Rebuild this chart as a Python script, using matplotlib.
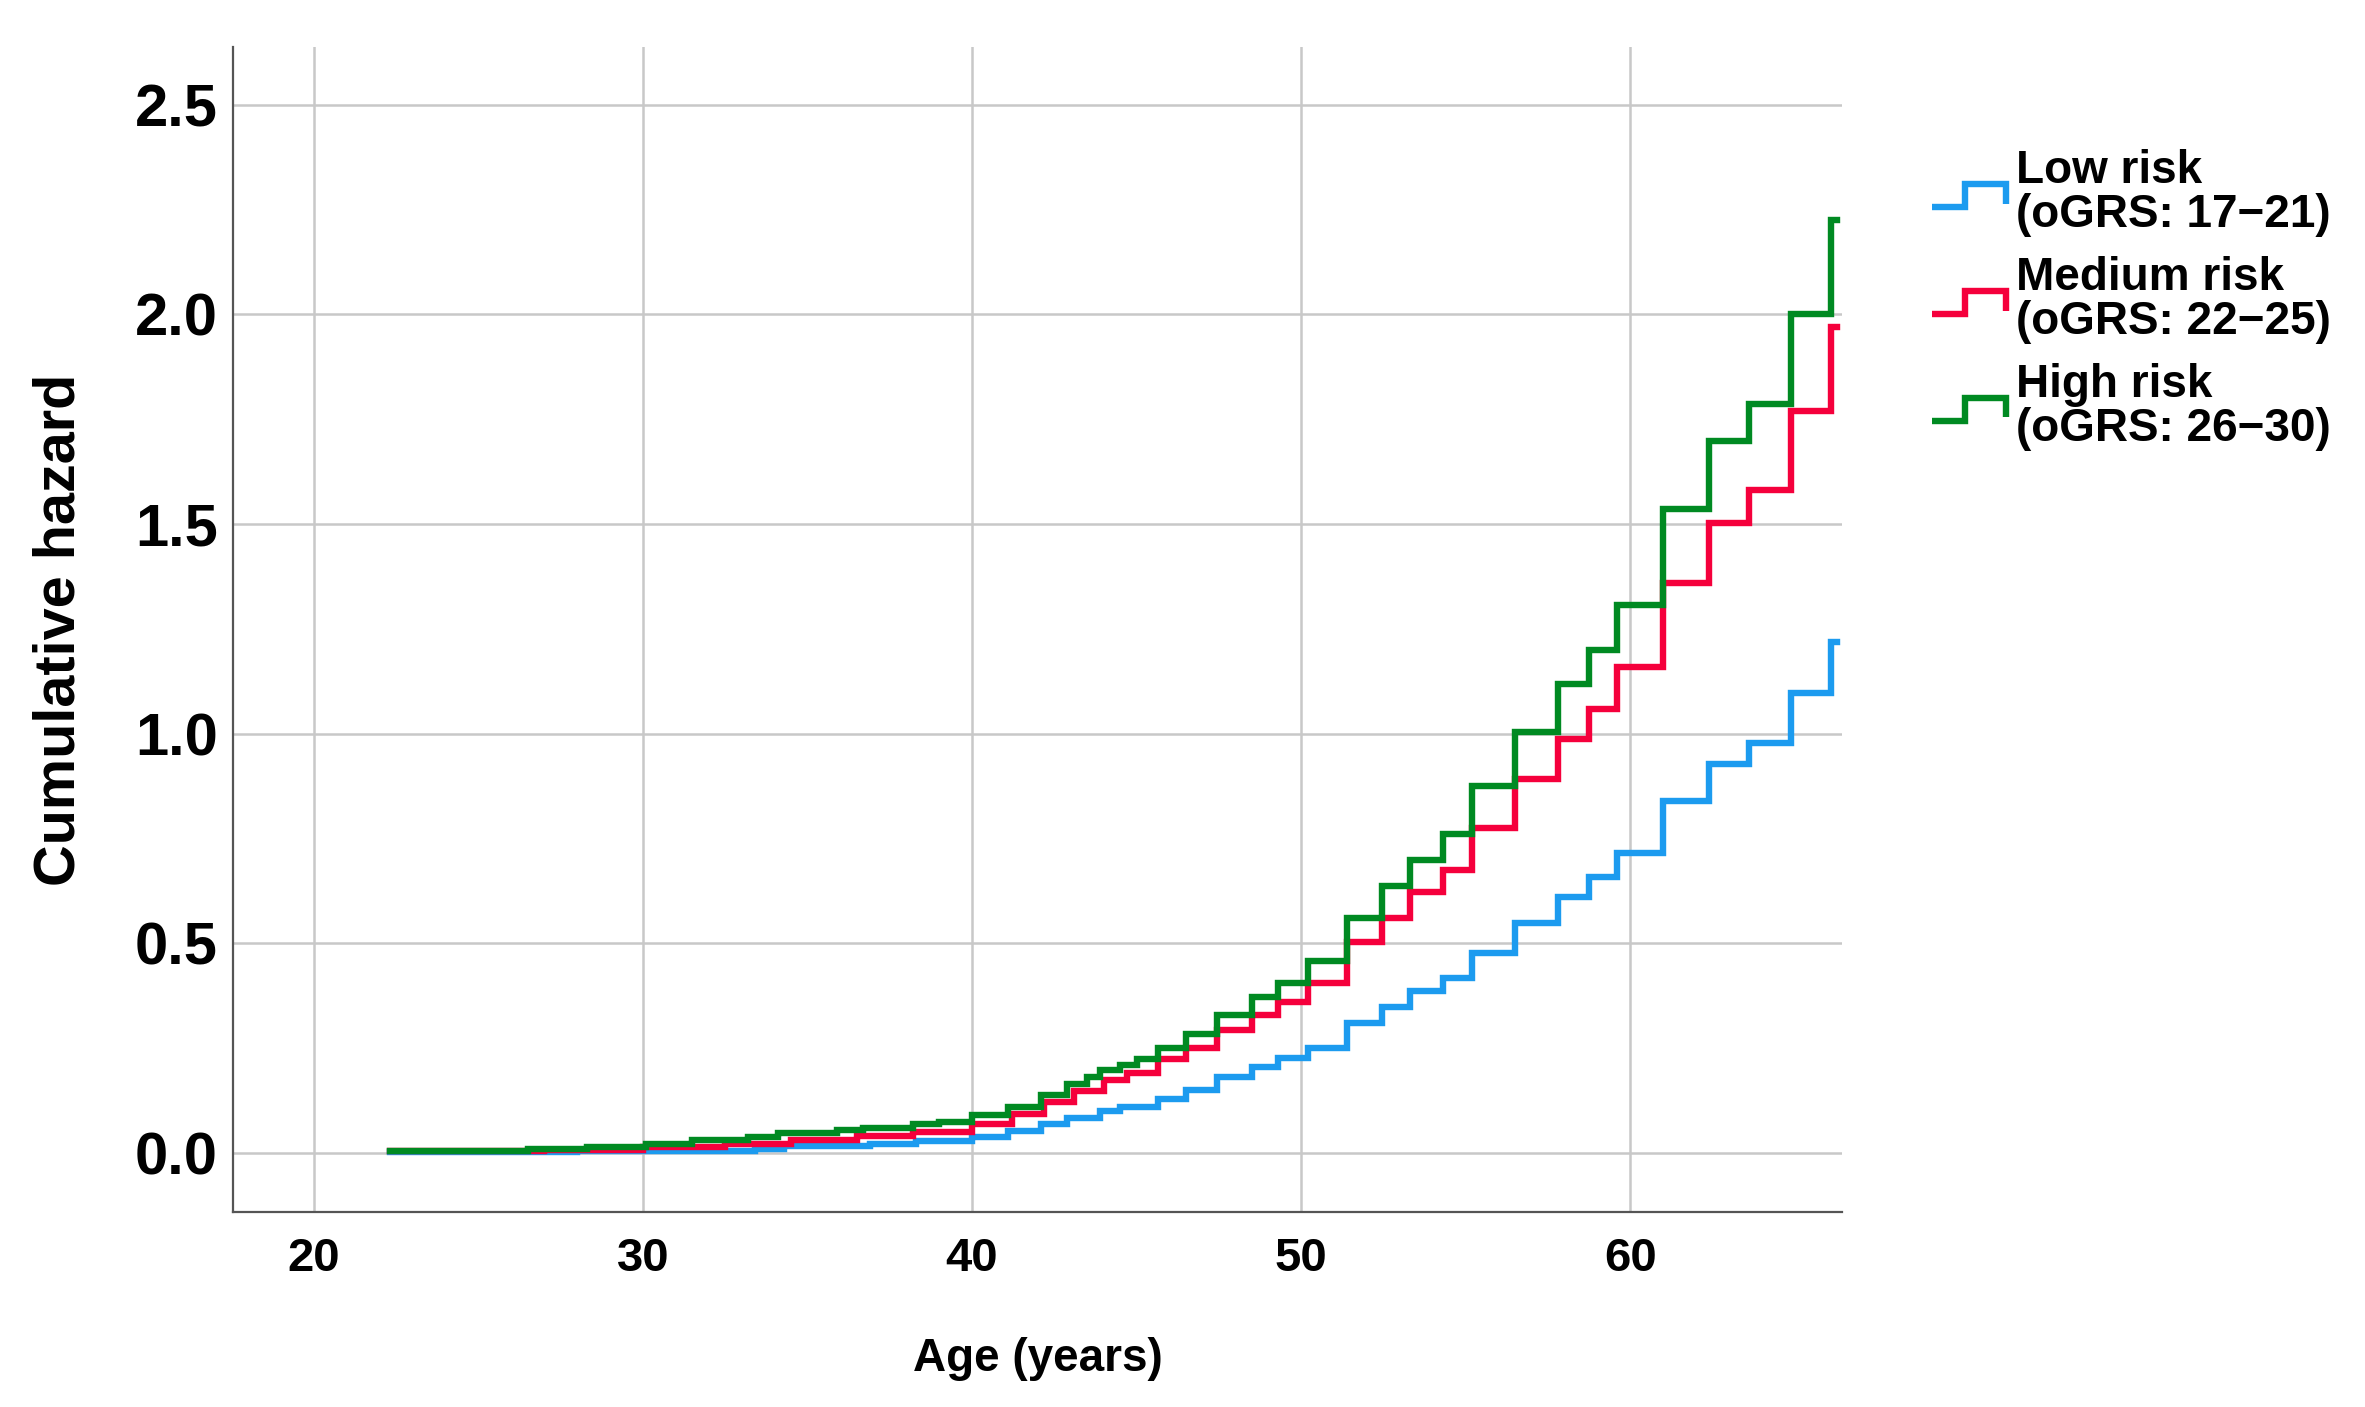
import matplotlib
matplotlib.use("Agg")
import matplotlib.pyplot as plt
from matplotlib.legend_handler import HandlerBase
from matplotlib.lines import Line2D

plt.rcParams['font.family'] = ['Liberation Sans', 'DejaVu Sans']
plt.rcParams['font.weight'] = 'bold'

# step change points (age) and cumulative hazard after each step
low_age = [22.3, 28.0, 33.4, 34.3, 36.9, 38.3, 40.0, 41.1, 42.1, 42.9, 43.9, 44.5,
           45.65, 46.5, 47.45, 48.5, 49.3, 50.2, 51.4, 52.45, 53.3, 54.3, 55.2,
           56.5, 57.8, 58.75, 59.6, 61.0, 62.4, 63.6, 64.9, 66.1]
low_haz = [0.002, 0.005, 0.010, 0.016, 0.022, 0.028, 0.038, 0.052, 0.068, 0.083, 0.100, 0.110,
           0.128, 0.150, 0.181, 0.205, 0.226, 0.251, 0.309, 0.348, 0.385, 0.418, 0.477,
           0.548, 0.610, 0.657, 0.716, 0.840, 0.928, 0.978, 1.096, 1.218]

med_age = [22.3, 27.0, 30.0, 32.5, 34.5, 36.5, 38.2, 40.0, 41.2, 42.2, 43.1, 44.0, 44.7,
           45.65, 46.5, 47.45, 48.5, 49.3, 50.2, 51.4, 52.45, 53.3, 54.3, 55.2,
           56.5, 57.8, 58.75, 59.6, 61.0, 62.4, 63.6, 64.9, 66.1]
med_haz = [0.004, 0.008, 0.015, 0.022, 0.030, 0.040, 0.050, 0.070, 0.093, 0.121, 0.147, 0.173, 0.190,
           0.223, 0.251, 0.293, 0.330, 0.360, 0.406, 0.503, 0.560, 0.623, 0.674, 0.774,
           0.891, 0.987, 1.059, 1.159, 1.360, 1.503, 1.582, 1.770, 1.971]

high_age = [22.3, 26.5, 28.3, 30.1, 31.5, 33.2, 34.1, 35.9, 36.7, 38.2, 39.0, 40.0, 41.1,
            42.1, 42.9, 43.5, 43.9, 44.5, 45.0, 45.65, 46.5, 47.45, 48.5, 49.3, 50.2,
            51.4, 52.45, 53.3, 54.3, 55.2, 56.5, 57.8, 58.75, 59.6, 61.0, 62.4, 63.6,
            64.9, 66.1]
high_haz = [0.005, 0.010, 0.014, 0.022, 0.030, 0.038, 0.048, 0.055, 0.060, 0.068, 0.073, 0.090, 0.110,
            0.137, 0.164, 0.181, 0.197, 0.209, 0.223, 0.250, 0.283, 0.330, 0.372, 0.406, 0.457,
            0.561, 0.636, 0.699, 0.761, 0.875, 1.004, 1.118, 1.199, 1.308, 1.536, 1.697, 1.787,
            2.000, 2.226]

last_age = 66.3

labels = ["Low risk\n(oGRS: 17\u221221)", "Medium risk\n(oGRS: 22\u221225)", "High risk\n(oGRS: 26\u221230)"]
colors = ["#1C9BEF", "#F5003C", "#008A22"]


class HandlerStep(HandlerBase):
    """
    small step shaped legend key
    """
    def create_artists(self, legend, orig_handle, xdescent, ydescent, width, height, fontsize, trans):
        x0 = -xdescent
        y0 = -ydescent
        xs = [x0, x0 + 0.45 * width, x0 + 0.45 * width, x0 + width, x0 + width]
        ys = [y0 + 0.1 * height, y0 + 0.1 * height, y0 + 0.8 * height, y0 + 0.8 * height, y0 + 0.2 * height]
        line = Line2D(xs, ys, color=orig_handle.get_color(), linewidth=orig_handle.get_linewidth(),
                      solid_joinstyle='miter', solid_capstyle='butt')
        line.set_transform(trans)
        return [line]


fig = plt.figure(figsize=(23.65, 14.07), dpi=100)
ax = fig.add_axes([0.0985, 0.1386, 0.6804, 0.828])

handles = []
for ages, haz, col in zip([low_age, med_age, high_age], [low_haz, med_haz, high_haz], colors):
    xs = ages + [last_age]
    ys = haz + [haz[-1]]
    ln, = ax.step(xs, ys, where='post', color=col, linewidth=4.6, solid_joinstyle='miter')
    handles.append(ln)

ax.set_xlim(17.54, 66.44)
ax.set_ylim(-0.141, 2.638)
ax.set_xticks([20, 30, 40, 50, 60])
ax.set_yticks([0.0, 0.5, 1.0, 1.5, 2.0, 2.5])
ax.set_yticklabels(["0.0", "0.5", "1.0", "1.5", "2.0", "2.5"])
ax.grid(True, color="#c8c8c8", linewidth=1.8)
ax.set_axisbelow(True)

for side in ["top", "right"]:
    ax.spines[side].set_visible(False)
for side in ["left", "bottom"]:
    ax.spines[side].set_color("#555555")
    ax.spines[side].set_linewidth(1.6)

ax.tick_params(axis='both', length=0)
ax.tick_params(axis='y', labelsize=43, pad=11)
ax.tick_params(axis='x', labelsize=34, pad=18)

ax.set_xlabel("Age (years)", fontsize=33, fontweight='bold')
ax.xaxis.set_label_coords(0.5, -0.107)
ax.set_ylabel("Cumulative hazard", fontsize=41.5, fontweight='bold')
ax.yaxis.set_label_coords(-0.091, 0.5)

leg = ax.legend(handles, labels, handler_map={Line2D: HandlerStep()},
                loc='upper left', bbox_to_anchor=(0.817, 0.894), bbox_transform=fig.transFigure,
                frameon=False, fontsize=33, handlelength=1.6, handletextpad=0.22,
                labelspacing=0.41, borderpad=0, borderaxespad=0)
for t in leg.get_texts():
    t.set_linespacing(1.0)

fig.savefig("out.png", dpi=100)
